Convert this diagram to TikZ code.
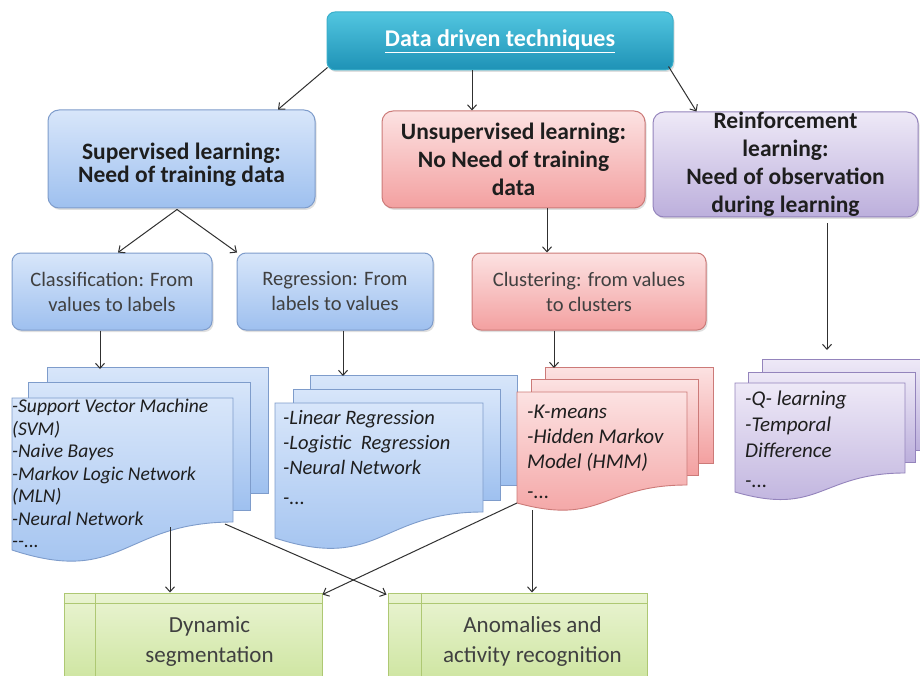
\documentclass[tikz,border=0pt]{standalone}
\usepackage{fontspec}
\setmainfont{Carlito}
\usetikzlibrary{arrows.meta,shadows,calc}
\definecolor{titleTop}{HTML}{52C6E0}
\definecolor{titleBot}{HTML}{1E92B6}
\definecolor{titleBorder}{HTML}{3AAFCB}
\definecolor{blueTop}{HTML}{D8E6FA}
\definecolor{blueBot}{HTML}{9EC0EF}
\definecolor{blueBorder}{HTML}{7E9CCB}
\definecolor{redTop}{HTML}{FCE2E2}
\definecolor{redBot}{HTML}{F3A0A0}
\definecolor{redBorder}{HTML}{CC7A78}
\definecolor{purTop}{HTML}{EEE9F7}
\definecolor{purBot}{HTML}{BCAFDC}
\definecolor{purBorder}{HTML}{9484BC}
\definecolor{grnTop}{HTML}{EAF4D3}
\definecolor{grnBot}{HTML}{C8E296}
\definecolor{grnBorder}{HTML}{AEC873}
\definecolor{txt}{HTML}{1E1E1E}
\definecolor{arr}{HTML}{303030}
\newcommand{\docpage}[6]{%
  \path[#6] (#1,#2) -- (#3,#2) -- (#3,#4)
    .. controls ({(#1+#3)/2},#4) and ({(#1+#3)/2},{#4+2.3*(#5-#4)}) .. (#1,#5) -- cycle;}
\tikzset{
  boxbase/.style={draw, line width=1pt, inner sep=0pt, align=center, text=txt,
    drop shadow={opacity=0.25, shadow xshift=1.5pt, shadow yshift=-2pt}},
  titlebox/.style={boxbase, rounded corners=8pt, draw=titleBorder, top color=titleTop, bottom color=titleBot,
    text=white, font=\bfseries\fontsize{24}{28}\selectfont},
  bluebox/.style={boxbase, rounded corners=11pt, draw=blueBorder, top color=blueTop, bottom color=blueBot},
  redbox/.style={boxbase, rounded corners=11pt, draw=redBorder, top color=redTop, bottom color=redBot},
  purbox/.style={boxbase, rounded corners=11pt, draw=purBorder, top color=purTop, bottom color=purBot},
  grnbox/.style={draw=grnBorder, line width=1pt, inner sep=0pt, top color=grnTop, bottom color=grnBot},
  lvlone/.style={font=\bfseries\fontsize{23.5}{28}\selectfont},
  lvltwo/.style={font=\fontsize{20.5}{25}\selectfont, text=txt!85},
  bluepage/.style={draw=blueBorder, line width=0.9pt, top color=blueTop, bottom color=blueBot},
  redpage/.style={draw=redBorder, line width=0.9pt, top color=redTop, bottom color=redBot},
  purpage/.style={draw=purBorder, line width=0.9pt, top color=purTop, bottom color=purBot},
  doctxt/.style={anchor=north west, inner sep=0pt, align=left, text=txt, font=\itshape\fontsize{21}{25}\selectfont},
  bottxt/.style={align=center, text=txt!85, font=\fontsize{23}{30}\selectfont},
  conn/.style={draw=arr, line width=1pt, -{Straight Barb[length=5pt,width=9pt,line width=1pt]}},
  gline/.style={draw=grnBorder, line width=0.9pt}
}
\begin{document}
\begin{tikzpicture}[x=1pt,y=-1pt]
\useasboundingbox (0,0) rectangle (920,676);
\fill[white] (0,0) rectangle (920,676);
\clip (0,0) rectangle (920,676);

% level 0
\node[titlebox, minimum width=346pt, minimum height=58pt] (top) at (500,41) {\underline{Data driven techniques}};

% level 1
\node[bluebox, minimum width=267pt, minimum height=98pt] (sup) at (181.5,159) {};
\node[lvlone, align=center, text=txt, inner sep=0pt, font=\bfseries\fontsize{23.5}{23}\selectfont] (suptext) at (181.5,165) {Supervised learning:\\Need of training data};
\node[redbox, lvlone, minimum width=263pt, minimum height=97pt] (unsup) at (513.5,159.5) {Unsupervised learning:\\No Need of training\\data};
\node[purbox, lvlone, minimum width=265pt, minimum height=105pt] (reinf) at (785.5,164.5) {Reinforcement\\learning:\\Need of observation\\during learning};

% level 2
\node[bluebox, lvltwo, rounded corners=9pt, minimum width=200pt, minimum height=77pt] (class) at (112,291.5) {Classification: From\\values to labels};
\node[bluebox, lvltwo, rounded corners=9pt, minimum width=196pt, minimum height=77pt] (regr) at (335,291.5) {Regression: From\\labels to values};
\node[redbox, lvltwo, rounded corners=9pt, minimum width=234pt, minimum height=77pt] (clust) at (589,291.5) {Clustering: from values\\to clusters};

% classification documents
\path[bluepage] (47,367) rectangle (268,493);
\path[bluepage] (28,382) rectangle (250,510);
\docpage{12}{398}{233}{522}{550}{bluepage}
\node[doctxt, font=\itshape\fontsize{19.5}{22.5}\selectfont] (ctext) at (12,399) {-Support Vector Machine\\(SVM)\\-Naive Bayes\\-Markov Logic Network\\(MLN)\\-Neural Network\\-{}-...};
\coordinate (cdocA) at (170,527);
\coordinate (cdocB) at (225,524);

% regression documents
\path[bluepage] (310,375) rectangle (517,485);
\path[bluepage] (293,389) rectangle (500,500);
\docpage{275}{403}{483}{512}{538}{bluepage}
\node[doctxt, font=\itshape\fontsize{20.5}{25}\selectfont] (rtext) at (283,410) {-Linear Regression\\-Logistic\ \ Regression\\-Neural Network\\[5pt]-...};

% clustering documents
\path[redpage] (545,367) rectangle (713,463);
\path[redpage] (531,379) rectangle (698,475);
\docpage{517}{392}{687}{485}{503}{redpage}
\node[doctxt] (ktext) at (527,405) {-K-means\\-Hidden Markov\\Model (HMM)\\[5pt]-...};
\coordinate (kdocA) at (517,503);
\coordinate (kdocB) at (532,510);

% reinforcement documents
\path[purpage] (762,359) rectangle (935,450);
\path[purpage] (748,372) rectangle (915,462);
\docpage{735}{383}{905}{473}{492}{purpage}
\node[doctxt, font=\itshape\fontsize{21}{26}\selectfont] (qtext) at (745,391) {-Q- learning\\-Temporal\\Difference\\[4pt]-...};
\coordinate (qdocTop) at (827,350);

% bottom boxes
\node[grnbox, minimum width=258pt, minimum height=106pt] (dyn) at (193,646) {};
\draw[gline] ($(dyn.north west)+(0,11)$) -- ($(dyn.north east)+(0,11)$);
\draw[gline] ($(dyn.north west)+(32,0)$) -- ($(dyn.south west)+(32,0)$);
\node[bottxt] (dyntext) at (209.5,641.5) {Dynamic\\segmentation};

\node[grnbox, minimum width=259pt, minimum height=106pt] (anom) at (517.5,646) {};
\draw[gline] ($(anom.north west)+(0,11)$) -- ($(anom.north east)+(0,11)$);
\draw[gline] ($(anom.north west)+(34,0)$) -- ($(anom.south west)+(34,0)$);
\node[bottxt] (anomtext) at (532.5,641.5) {Anomalies and\\activity recognition};

% connectors
\draw[conn] ($(top.south west)+(1,-3)$) -- ($(sup.north)+(96.5,0)$);
\draw[conn] (top.south -| 472,0) -- (unsup.north -| 472,0);
\draw[conn] ($(top.south east)+(-5,-4)$) -- ($(reinf.north west)+(44,0)$);
\draw[conn] ($(sup.south)+(-4.5,1)$) -- ($(class.north)+(6,0)$);
\draw[conn] ($(sup.south)+(-4.5,1)$) -- ($(regr.north)+(-98,0)$);
\draw[conn] (unsup.south -| 547,0) -- (clust.north -| 547,0);
\draw[conn] ($(reinf.south)+(41.5,6)$) -- (qdocTop);
\draw[conn] (class.south -| 100,0) -- (100,369);
\draw[conn] (regr.south -| 343,0) -- (343,376);
\draw[conn] (clust.south -| 554,0) -- (554,368);
\draw[conn] (cdocA) -- (dyn.north -| cdocA);
\draw[conn] (cdocB) -- ($(anom.north west)+(-1,2)$);
\draw[conn] (kdocA) -- ($(dyn.north east)+(0,2)$);
\draw[conn] (kdocB) -- (anom.north -| kdocB);
\end{tikzpicture}
\end{document}
